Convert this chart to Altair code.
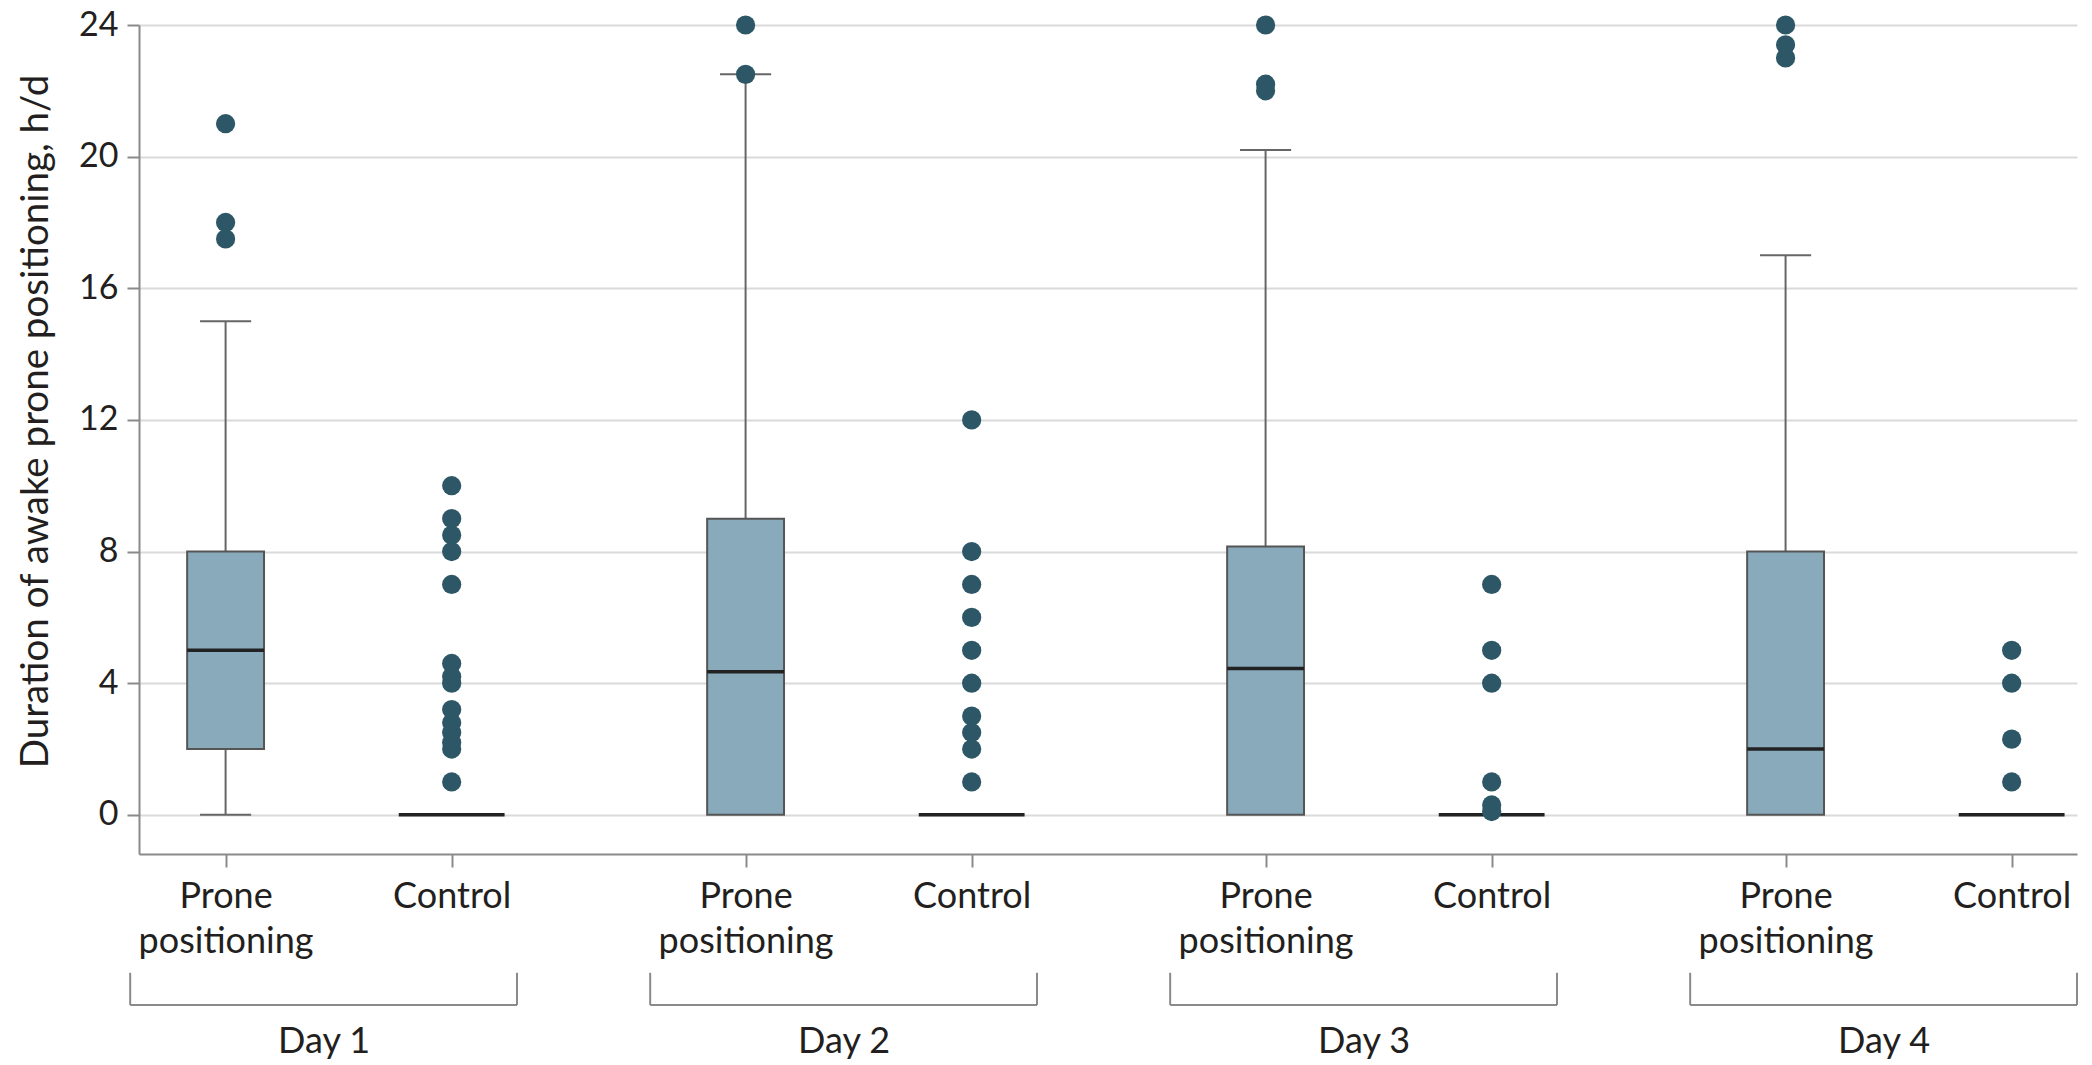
import json
import altair as alt
import pandas as pd

# ---------------- data ----------------
days = ["Day 1", "Day 2", "Day 3", "Day 4"]
groups = ["Prone positioning", "Control"]

# one entry per box, order: Day1 Prone, Day1 Control, Day2 Prone, ...
whisker_low = [0, 0, 0, 0, 0, 0, 0, 0]
q1 = [2, 0, 0, 0, 0, 0, 0, 0]
median = [5, 0, 4.35, 0, 4.45, 0, 2, 0]
q3 = [8, 0, 9, 0, 8.15, 0, 8, 0]
whisker_high = [15, 0, 22.5, 0, 20.2, 0, 17, 0]

outliers = [
    [21, 18, 17.5],
    [10, 9, 8.5, 8, 7, 4.6, 4.2, 4.0, 3.2, 2.8, 2.5, 2.2, 2.0, 1.0],
    [24, 22.5],
    [12, 8, 7, 6, 5, 4, 3, 2.5, 2, 1],
    [24, 22.2, 22.0],
    [7, 5, 4, 1, 0.3, 0.1],
    [24, 23.4, 23.0],
    [5, 4, 2.3, 1],
]

y_ticks = [0, 4, 8, 12, 16, 20, 24]
y_title = "Duration of awake prone positioning, h/d"

# ---------------- layout constants ----------------
DAY_STEP = 23      # x units between days
GROUP_STEP = 10    # x units between groups within a day
X_MIN, X_MAX = -3.83, 81.89
Y_MIN, Y_MAX = -1.19, 24
BOX_HW = 1.70
CTRL_MED_HW = 2.34
CAP_HW = 1.13
BR_LEFT, BR_RIGHT, BR_CENTER = -4.22, 12.89, 4.36
BR_Y, BR_TOP, DAY_Y = -5.78, -4.80, -7.23

FONT = "Lato"
TXT = "#231f20"
GRAY = "#8a8a8a"

rows = []
for i in range(len(q1)):
    d, g = divmod(i, 2)
    rows.append(dict(day=days[d], group=groups[g], pos=d * DAY_STEP + g * GROUP_STEP,
                     wlo=whisker_low[i], q1=q1[i], med=median[i], q3=q3[i], whi=whisker_high[i]))
boxes = pd.DataFrame(rows)

pts = []
for i, vals in enumerate(outliers):
    d, g = divmod(i, 2)
    for v in vals:
        pts.append(dict(day=days[d], group=groups[g], pos=d * DAY_STEP + g * GROUP_STEP, value=v))
pts = pd.DataFrame(pts)

brackets = pd.DataFrame([dict(day=dname, start=d * DAY_STEP) for d, dname in enumerate(days)])

tick_pos = [d * DAY_STEP + g * GROUP_STEP for d in range(len(days)) for g in range(len(groups))]

xs = alt.Scale(domain=[X_MIN, X_MAX], nice=False, zero=False)
ys = alt.Scale(domain=[Y_MIN, Y_MAX], nice=False, zero=False)

label_expr = (f"datum.value % {DAY_STEP} == 0 ? {json.dumps(groups[0].split(' '))} "
              f": {json.dumps(groups[1])}")

x_axis = alt.Axis(values=tick_pos, labelExpr=label_expr, grid=False,
                  domainColor=GRAY, domainWidth=2, tickColor=GRAY, tickWidth=2, tickSize=13,
                  labelFont=FONT, labelFontSize=36, labelColor=TXT, labelLineHeight=45,
                  labelPadding=12, labelFlush=False, labelOverlap=False, labelBaseline="top")
y_axis = alt.Axis(values=y_ticks, grid=True, gridColor="#dadada", gridWidth=2,
                  domainColor=GRAY, domainWidth=2, tickColor=GRAY, tickWidth=2, tickSize=12,
                  labelFont=FONT, labelFontSize=34, labelColor=TXT, labelPadding=9,
                  title=y_title, titleFont=FONT, titleFontSize=38.5, titleFontWeight="normal",
                  titleColor=TXT, titleX=-92, titleY=396, titleAngle=-90,
                  titleAlign="center", titleBaseline="alphabetic")

base = alt.Chart(boxes)

upper_whisker = base.transform_filter("datum.whi > datum.q3").mark_rule(
    color="#666666", strokeWidth=2).encode(
    x=alt.X("pos:Q", scale=xs, axis=x_axis, title=None),
    y=alt.Y("q3:Q", scale=ys, axis=y_axis),
    y2="whi:Q")

lower_whisker = base.transform_filter("datum.q1 > datum.wlo").mark_rule(
    color="#666666", strokeWidth=2).encode(
    x=alt.X("pos:Q", scale=xs, axis=x_axis, title=None),
    y=alt.Y("wlo:Q", scale=ys, axis=y_axis),
    y2="q1:Q")

caps_hi = base.transform_filter("datum.whi > datum.q3").transform_calculate(
    l=f"datum.pos - {CAP_HW}", r=f"datum.pos + {CAP_HW}").mark_rule(
    color="#666666", strokeWidth=2).encode(
    x=alt.X("l:Q", scale=xs, axis=x_axis, title=None), x2="r:Q",
    y=alt.Y("whi:Q", scale=ys, axis=y_axis))

caps_lo = base.transform_filter("datum.q1 > datum.wlo").transform_calculate(
    l=f"datum.pos - {CAP_HW}", r=f"datum.pos + {CAP_HW}").mark_rule(
    color="#666666", strokeWidth=2).encode(
    x=alt.X("l:Q", scale=xs, axis=x_axis, title=None), x2="r:Q",
    y=alt.Y("wlo:Q", scale=ys, axis=y_axis))

box = base.transform_filter("datum.q3 > datum.q1").transform_calculate(
    l=f"datum.pos - {BOX_HW}", r=f"datum.pos + {BOX_HW}").mark_bar(
    fill="#88aabb", stroke="#555555", strokeWidth=2, opacity=1).encode(
    x=alt.X("l:Q", scale=xs, axis=x_axis, title=None), x2="r:Q",
    y=alt.Y("q1:Q", scale=ys, axis=y_axis), y2="q3:Q")

med = base.transform_calculate(
    hw=f"datum.group == {json.dumps(groups[1])} ? {CTRL_MED_HW} : {BOX_HW}").transform_calculate(
    l="datum.pos - datum.hw", r="datum.pos + datum.hw").mark_rule(
    color="#222222", strokeWidth=3.5).encode(
    x=alt.X("l:Q", scale=xs, axis=x_axis, title=None), x2="r:Q",
    y=alt.Y("med:Q", scale=ys, axis=y_axis))

dots = alt.Chart(pts).mark_circle(size=370, color="#2d5766", opacity=1).encode(
    x=alt.X("pos:Q", scale=xs, axis=x_axis, title=None),
    y=alt.Y("value:Q", scale=ys, axis=y_axis))

br = alt.Chart(brackets).transform_calculate(
    l=f"datum.start + {BR_LEFT}", r=f"datum.start + {BR_RIGHT}", c=f"datum.start + {BR_CENTER}")

br_h = br.mark_rule(color=GRAY, strokeWidth=2).encode(
    x=alt.X("l:Q", scale=xs, axis=x_axis, title=None), x2="r:Q",
    y=alt.datum(BR_Y, scale=ys))

br_v = br.transform_fold(["l", "r"], as_=["side", "xv"]).mark_rule(
    color=GRAY, strokeWidth=2).encode(
    x=alt.X("xv:Q", scale=xs, axis=x_axis, title=None),
    y=alt.datum(BR_TOP, scale=ys), y2=alt.datum(BR_Y))

day_txt = br.mark_text(font=FONT, fontSize=36, color=TXT, baseline="alphabetic",
                       align="center").encode(
    x=alt.X("c:Q", scale=xs, axis=x_axis, title=None),
    y=alt.datum(DAY_Y, scale=ys),
    text="day:N")

chart = alt.layer(
    upper_whisker, lower_whisker, caps_hi, caps_lo, box, med, dots, br_h, br_v, day_txt
).properties(
    width=1938, height=829,
    autosize=alt.AutoSizeParams(type="none"),
    padding={"left": 131, "top": 17, "right": 5, "bottom": 211},
    background="white",
).configure_view(strokeWidth=0)

chart.save("out.html", embed_options={"renderer": "svg", "actions": False})
